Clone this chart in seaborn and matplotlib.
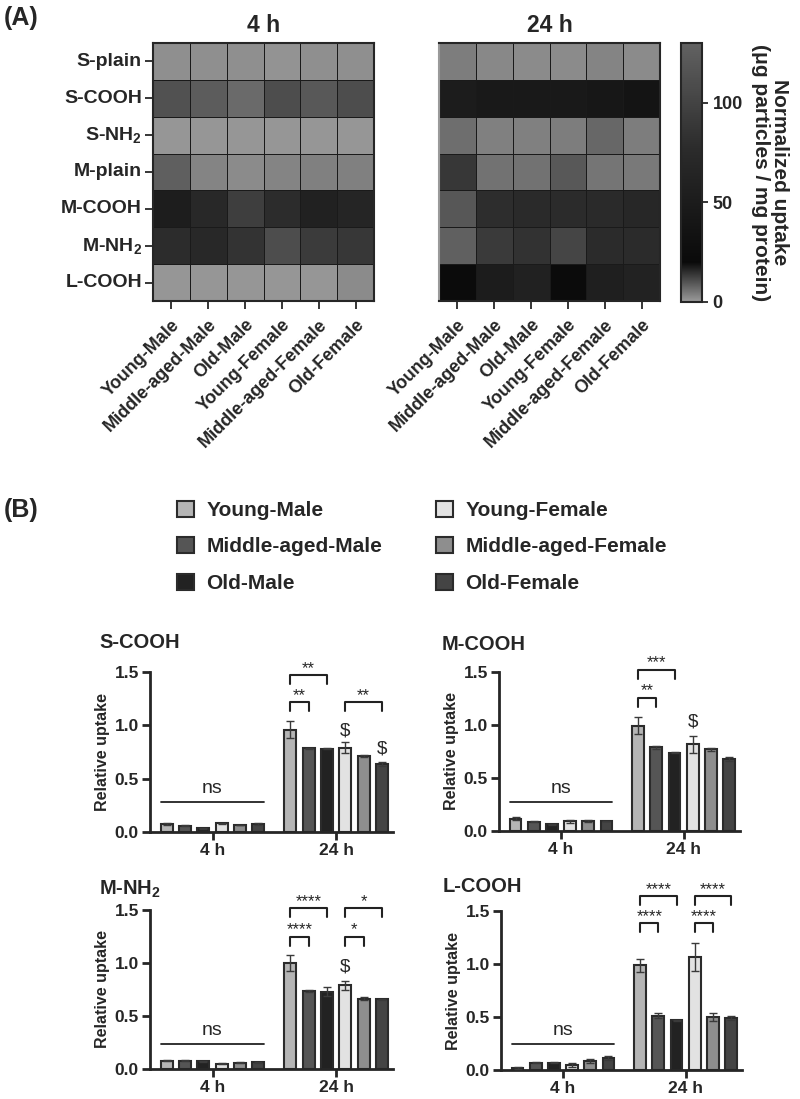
import numpy as np
import pandas as pd
import seaborn as sns
import matplotlib.pyplot as plt
from matplotlib.colors import LinearSegmentedColormap
from matplotlib.patches import Patch

groups = ["Young-Male", "Middle-aged-Male", "Old-Male",
          "Young-Female", "Middle-aged-Female", "Old-Female"]
particles = ["S-plain", "S-COOH", "S-NH$_2$", "M-plain", "M-COOH", "M-NH$_2$", "L-COOH"]
times = ["4 h", "24 h"]

# (A) normalized uptake, ug particles / mg protein
uptake_4h = [
    [1.9, 1.7, 1.7, 1.5, 1.7, 1.7],
    [10.6, 8.9, 6.7, 11.1, 9.4, 10.8],
    [0.6, 0.6, 0.6, 0.8, 0.8, 0.6],
    [8.6, 3.1, 2.5, 3.3, 3.6, 3.6],
    [17.5, 15.8, 12.8, 15.3, 16.9, 16.4],
    [15.6, 15.8, 14.7, 11.1, 13.3, 13.9],
    [0.6, 0.8, 0.8, 0.6, 0.8, 2.2],
]
uptake_24h = [
    [4.2, 2.8, 2.5, 2.5, 3.1, 2.5],
    [50.7, 45.6, 45.6, 45.6, 43.0, 37.9],
    [6.4, 3.6, 3.6, 4.2, 7.2, 4.4],
    [13.9, 5.8, 5.8, 9.2, 5.3, 5.0],
    [119.8, 78.8, 73.7, 76.3, 73.7, 68.6],
    [128.0, 91.6, 84.0, 101.9, 76.3, 76.3],
    [20.0, 50.7, 58.4, 20.0, 55.8, 60.9],
]

# (B) relative uptake, mean and error
scooh_4h = [0.075, 0.06, 0.035, 0.08, 0.065, 0.075]
scooh_4h_err = [0.005, 0.005, 0.004, 0.008, 0.004, 0.006]
scooh_24h = [0.96, 0.785, 0.78, 0.79, 0.71, 0.635]
scooh_24h_err = [0.08, 0.005, 0.004, 0.05, 0.01, 0.02]

mcooh_4h = [0.115, 0.088, 0.062, 0.09, 0.094, 0.094]
mcooh_4h_err = [0.015, 0.004, 0.004, 0.017, 0.006, 0.004]
mcooh_24h = [0.995, 0.79, 0.74, 0.82, 0.77, 0.68]
mcooh_24h_err = [0.08, 0.012, 0.006, 0.08, 0.012, 0.02]

mnh2_4h = [0.078, 0.078, 0.072, 0.05, 0.06, 0.063]
mnh2_4h_err = [0.004, 0.004, 0.004, 0.004, 0.004, 0.004]
mnh2_24h = [0.998, 0.74, 0.73, 0.79, 0.665, 0.656]
mnh2_24h_err = [0.075, 0.01, 0.045, 0.04, 0.013, 0.004]

lcooh_4h = [0.015, 0.07, 0.07, 0.047, 0.088, 0.11]
lcooh_4h_err = [0.01, 0.004, 0.004, 0.023, 0.019, 0.02]
lcooh_24h = [0.987, 0.513, 0.47, 1.065, 0.5, 0.487]
lcooh_24h_err = [0.06, 0.027, 0.005, 0.135, 0.035, 0.02]

# significance: (bar i, bar j, height, label); bars 6..11 are 24 h
scooh_sig = [(6, 7, 1.215, "**"), (6, 8, 1.47, "**"), (9, 11, 1.215, "**")]
mcooh_sig = [(6, 7, 1.255, "**"), (6, 8, 1.52, "***")]
mnh2_sig = [(6, 7, 1.25, "****"), (6, 8, 1.515, "****"), (9, 10, 1.25, "*"), (9, 11, 1.515, "*")]
lcooh_sig = [(6, 7, 1.384, "****"), (6, 8, 1.64, "****"), (9, 10, 1.384, "****"), (9, 11, 1.64, "****")]
scooh_dollar = [(9, 0.87), (11, 0.70)]
mcooh_dollar = [(9, 0.95)]
mnh2_dollar = [(9, 0.88)]
lcooh_dollar = []

bar_colors = {"Young-Male": "#b5b5b5", "Middle-aged-Male": "#555555", "Old-Male": "#222222",
              "Young-Female": "#e2e2e2", "Middle-aged-Female": "#8e8e8e", "Old-Female": "#444444"}

sns.set_style("ticks")
plt.rcParams["font.family"] = ["Liberation Sans", "DejaVu Sans"]
plt.rcParams["font.weight"] = "bold"
plt.rcParams["axes.labelweight"] = "bold"
plt.rcParams["mathtext.fontset"] = "custom"
plt.rcParams["mathtext.rm"] = "Liberation Sans:bold"
plt.rcParams["mathtext.it"] = "Liberation Sans:bold"
plt.rcParams["mathtext.default"] = "rm"

fig = plt.figure(figsize=(8, 10.99), dpi=100)


def px_axes(x0, y0, x1, y1):
    return fig.add_axes([x0 / 800, 1 - y1 / 1099, (x1 - x0) / 800, (y1 - y0) / 1099])


cmap = LinearSegmentedColormap.from_list(
    "uptake", [(0.0, "#9a9a9a"), (20 / 130, "#0a0a0a"), (0.6, "#2c2c2c"), (1.0, "#626262")])

ax4 = px_axes(153, 43, 374, 301)
ax24 = px_axes(439, 43, 660, 301)
cax = px_axes(681, 43, 702, 302)

sns.heatmap(pd.DataFrame(uptake_4h, index=particles, columns=groups), ax=ax4, cmap=cmap,
            vmin=0, vmax=130, cbar=False, linewidths=0.7, linecolor="#1a1a1a")
sns.heatmap(pd.DataFrame(uptake_24h, index=particles, columns=groups), ax=ax24, cmap=cmap,
            vmin=0, vmax=130, cbar_ax=cax, cbar_kws={"ticks": [0, 50, 100]},
            linewidths=0.7, linecolor="#1a1a1a")

for ax, t in [(ax4, "4 h"), (ax24, "24 h")]:
    for s in ax.spines.values():
        s.set_visible(True)
        s.set_linewidth(1.5)
    ax.set_title(t, fontsize=16.5, fontweight="bold", pad=8)
    ax.set_xticklabels(groups, rotation=45, ha="right", rotation_mode="anchor", fontsize=13)
    ax.tick_params(axis="x", length=6, width=1.3, pad=5)
    ax.set_xlabel("")
    ax.set_ylabel("")
ax4.set_yticklabels(particles, rotation=0, fontsize=14)
ax4.tick_params(axis="y", length=6, width=1.3, pad=2)
ax24.tick_params(axis="y", left=False, labelleft=False)
ax24.spines["left"].set_color("#9a9a9a")

cbar = ax24.collections[0].colorbar
cbar.outline.set_linewidth(1.5)
cax.tick_params(labelsize=13, width=1.3, length=4)
cax.set_ylabel("Normalized uptake\n(\u03bcg particles / mg protein)", rotation=270,
               fontsize=15, fontweight="bold", labelpad=6, va="bottom", linespacing=1.0)

fig.text(4 / 800, 1 - 18 / 1099, "(A)", fontsize=18, fontweight="bold", va="center")
fig.text(4 / 800, 1 - 510 / 1099, "(B)", fontsize=18, fontweight="bold", va="center")

handles = [Patch(facecolor=bar_colors[g], edgecolor="#2b2b2b", linewidth=1.5, label=g) for g in groups]
fig.legend(handles=handles, ncol=2, loc="upper left", bbox_to_anchor=(177 / 800, 1 - 501 / 1099),
           frameon=False, fontsize=15, handlelength=0.8, handleheight=0.8, labelspacing=0.82,
           columnspacing=2.6, handletextpad=0.6, borderaxespad=0, borderpad=0)


def bar_panel(ax, title, tpos, m4, e4, m24, e24, sig, dollars, ns_y):
    df = pd.DataFrame({"time": ["4 h"] * 6 + ["24 h"] * 6, "group": groups * 2, "value": m4 + m24})
    sns.barplot(data=df, x="time", y="value", hue="group", order=times, hue_order=groups,
                palette=bar_colors, saturation=1, width=0.89, gap=0.35, edgecolor="#2b2b2b",
                linewidth=1.5, errorbar=None, legend=False, ax=ax)
    bars = sorted(ax.patches, key=lambda p: p.get_x())
    xs = [p.get_x() + p.get_width() / 2 for p in bars]
    ax.errorbar(xs, m4 + m24, yerr=e4 + e24, fmt="none", ecolor="#3a3a3a", elinewidth=1,
                capsize=3, capthick=1, zorder=5)
    leg = 0.085
    for i, j, y, lab in sig:
        ax.plot([xs[i], xs[i], xs[j], xs[j]], [y - leg, y, y, y - leg], color="#222222",
                lw=1.5, clip_on=False)
        ax.text((xs[i] + xs[j]) / 2, y - 0.005, lab, ha="center", va="bottom", fontsize=12,
                fontweight="normal", clip_on=False)
    for i, y in dollars:
        ax.text(xs[i], y, "$", ha="center", va="bottom", fontsize=13.5, fontweight="normal")
    x0 = bars[0].get_x()
    x1 = bars[5].get_x() + bars[5].get_width()
    ax.plot([x0, x1], [ns_y, ns_y], color="#222222", lw=1.3)
    ax.text((x0 + x1) / 2, ns_y + 0.05, "ns", ha="center", va="bottom", fontsize=14,
            fontweight="normal")
    ax.set_ylim(0, 1.5)
    ax.set_xlim(-0.506, 1.46)
    ax.set_yticks([0, 0.5, 1.0, 1.5])
    ax.set_yticklabels(["0.0", "0.5", "1.0", "1.5"], fontsize=12.5)
    ax.set_xticklabels(times, fontsize=12.5)
    ax.set_xlabel("")
    ax.set_ylabel("Relative uptake", fontsize=11.5, labelpad=3)
    sns.despine(ax=ax)
    for s in ["left", "bottom"]:
        ax.spines[s].set_linewidth(2)
    ax.tick_params(width=2, length=6, pad=2)
    fig.text(tpos[0] / 800, 1 - tpos[1] / 1099, title, fontsize=14.5, fontweight="bold", va="center")


bar_panel(px_axes(150, 672, 393, 832), "S-COOH", (99, 643),
          scooh_4h, scooh_4h_err, scooh_24h, scooh_24h_err, scooh_sig, scooh_dollar, 0.28)
bar_panel(px_axes(499, 672, 740, 831), "M-COOH", (442, 644),
          mcooh_4h, mcooh_4h_err, mcooh_24h, mcooh_24h_err, mcooh_sig, mcooh_dollar, 0.27)
bar_panel(px_axes(150, 910, 393, 1069), "M-NH$_2$", (99, 889),
          mnh2_4h, mnh2_4h_err, mnh2_24h, mnh2_24h_err, mnh2_sig, mnh2_dollar, 0.235)
bar_panel(px_axes(501, 911, 742, 1070), "L-COOH", (443, 886),
          lcooh_4h, lcooh_4h_err, lcooh_24h, lcooh_24h_err, lcooh_sig, lcooh_dollar, 0.242)

fig.savefig("out.png", dpi=100, facecolor="white")
